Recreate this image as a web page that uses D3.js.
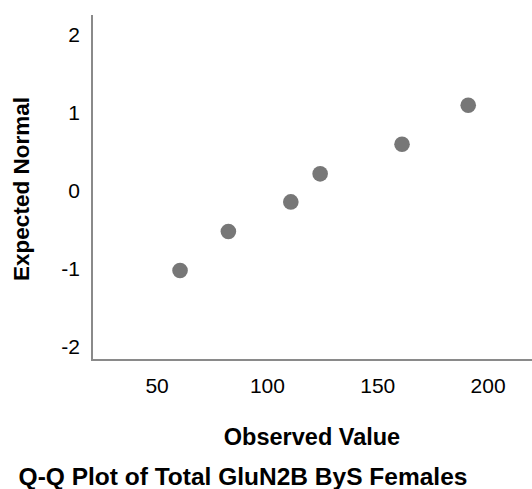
<!DOCTYPE html>
<html>
<head>
<meta charset="utf-8">
<script src="https://cdn.jsdelivr.net/npm/d3@7"></script>
<style>
  body { margin: 0; background: #fff; }
  text { font-family: "Liberation Sans", Arial, sans-serif; fill: #000; }
</style>
</head>
<body>
<div id="chart"></div>
<script>
// observed values and their expected normal scores
var observed = [60.4, 82.3, 110.6, 123.9, 161, 191];
var expected = [-1.02, -0.52, -0.14, 0.22, 0.60, 1.10];
var xTicks = [50, 100, 150, 200];
var yTicks = [-2, -1, 0, 1, 2];

var svgWidth = 532;
var svgHeight = 489;

var svg = d3.select("#chart")
  .append("svg")
  .attr("width", svgWidth)
  .attr("height", svgHeight);

// plot frame: left at 92, top at 15, bottom at 360
var xScale = d3.scaleLinear()
  .domain([20.5, 219])
  .range([92, 530]);

var yScale = d3.scaleLinear()
  .domain([-2, 2])
  .range([347, 35]);

var plotTop = 15;
var plotBottom = 360;

// axis lines
svg.append("line")
  .attr("x1", 92).attr("x2", 92)
  .attr("y1", plotTop).attr("y2", plotBottom)
  .attr("stroke", "#8a8a8a")
  .attr("stroke-width", 2);

svg.append("line")
  .attr("x1", 91).attr("x2", svgWidth)
  .attr("y1", plotBottom).attr("y2", plotBottom)
  .attr("stroke", "#8a8a8a")
  .attr("stroke-width", 2);

// x tick labels
svg.append("g")
  .selectAll("text")
  .data(xTicks)
  .enter()
  .append("text")
  .attr("x", d => xScale(d))
  .attr("y", 393)
  .attr("text-anchor", "middle")
  .style("font-size", "21px")
  .text(d => d);

// y tick labels
svg.append("g")
  .selectAll("text")
  .data(yTicks)
  .enter()
  .append("text")
  .attr("x", 80)
  .attr("y", d => yScale(d))
  .attr("dy", "0.35em")
  .attr("text-anchor", "end")
  .style("font-size", "21px")
  .text(d => d);

// points
svg.append("g")
  .selectAll("circle")
  .data(observed)
  .enter()
  .append("circle")
  .attr("cx", d => xScale(d))
  .attr("cy", (d, i) => yScale(expected[i]))
  .attr("r", 7.8)
  .attr("fill", "#777777");

// axis titles
svg.append("text")
  .attr("x", 312)
  .attr("y", 445)
  .attr("text-anchor", "middle")
  .style("font-size", "23.5px")
  .style("font-weight", "bold")
  .text("Observed Value");

svg.append("text")
  .attr("transform", "translate(29, 189) rotate(-90)")
  .attr("text-anchor", "middle")
  .style("font-size", "22.5px")
  .style("font-weight", "bold")
  .text("Expected Normal");

// chart title
svg.append("text")
  .attr("x", 243)
  .attr("y", 485)
  .attr("text-anchor", "middle")
  .style("font-size", "24.5px")
  .style("font-weight", "bold")
  .text("Q-Q Plot of Total GluN2B ByS Females");
</script>
</body>
</html>
